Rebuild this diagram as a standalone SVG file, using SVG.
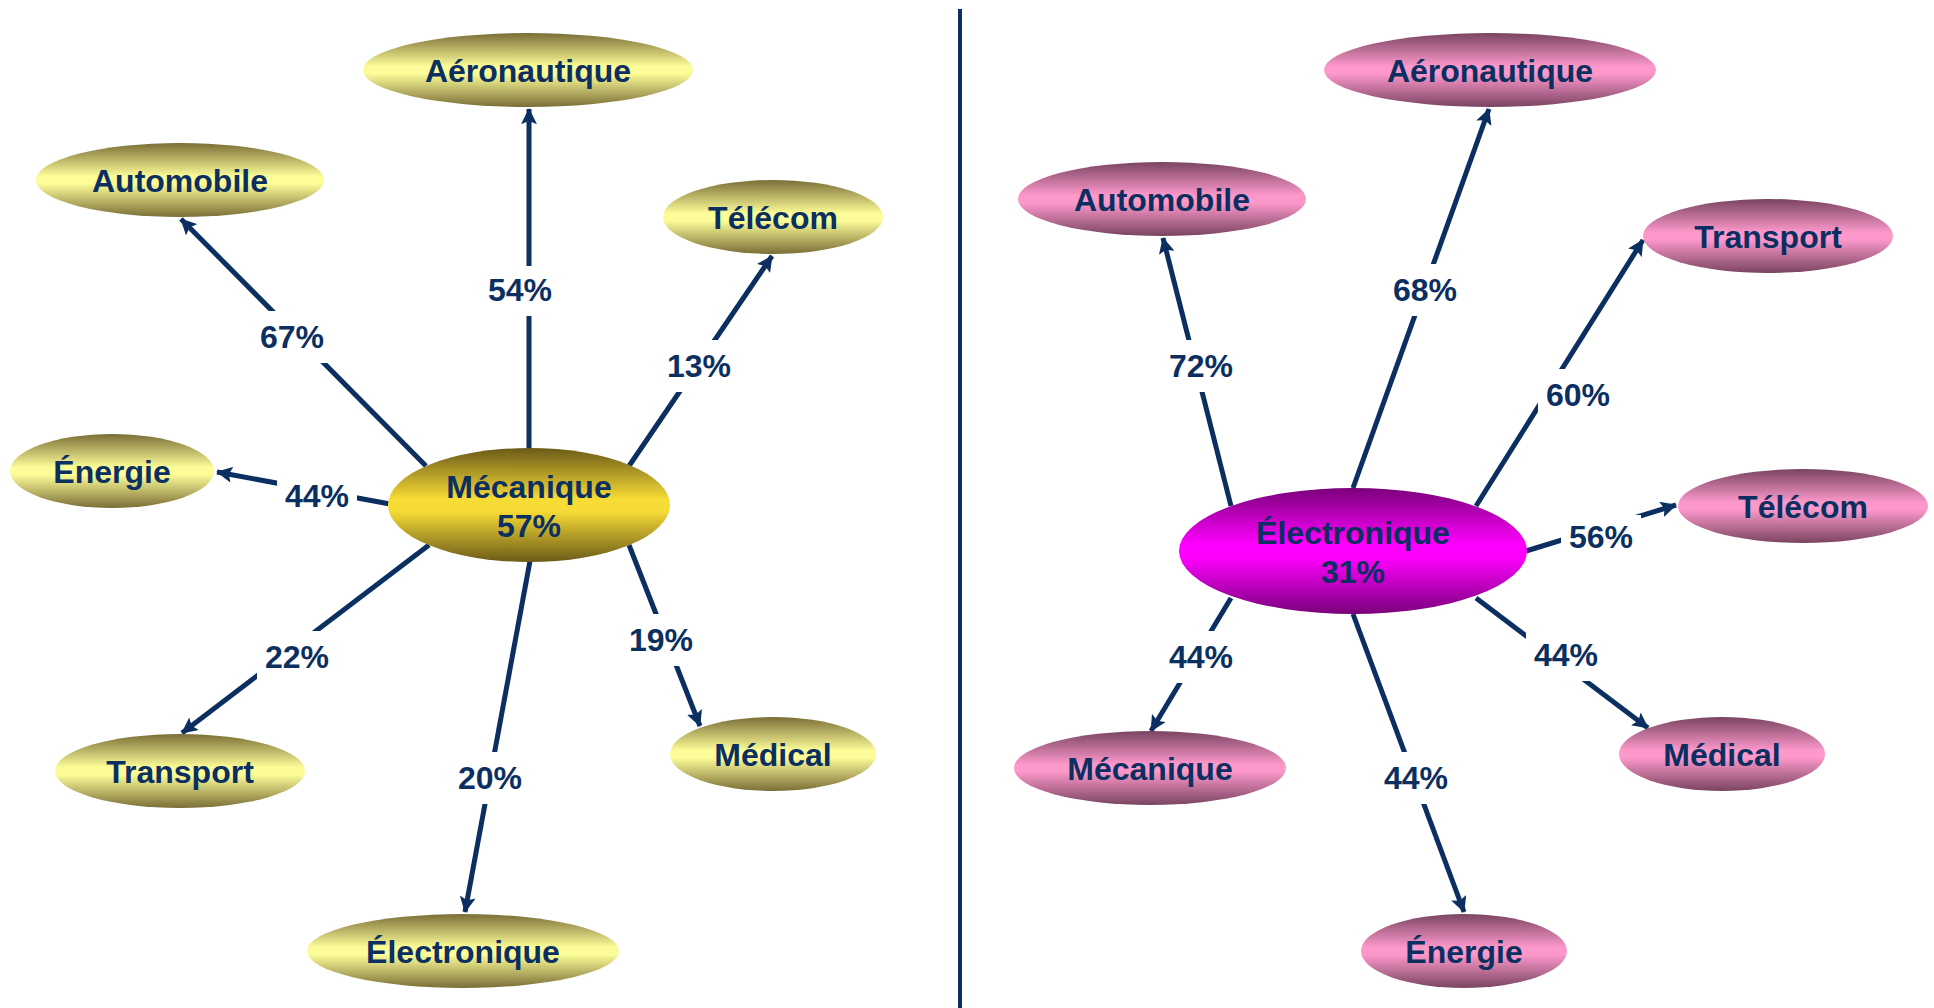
<svg xmlns="http://www.w3.org/2000/svg" width="1934" height="1008" viewBox="0 0 1934 1008">
<style>
text{font-family:"Liberation Sans",Arial,sans-serif;font-weight:bold;font-size:32px;fill:#0b2f60;text-anchor:middle}
.c{stroke:#0b2f60;stroke-width:5;fill:none;marker-end:url(#ah)}
.bg{fill:#ffffff}
.y{fill:url(#gy)}
.ym{fill:url(#gym)}
.p{fill:url(#gp)}
.pm{fill:url(#gpm)}
</style>
<defs>
<linearGradient id="gy" x1="0" y1="0" x2="0" y2="1">
<stop offset="0" stop-color="#7a6e36"/><stop offset="0.45" stop-color="#fcfc98"/><stop offset="0.55" stop-color="#fcfc98"/><stop offset="1" stop-color="#7a6e36"/>
</linearGradient>
<linearGradient id="gym" x1="0" y1="0" x2="0" y2="1">
<stop offset="0" stop-color="#6b5a18"/><stop offset="0.45" stop-color="#f8dc36"/><stop offset="0.55" stop-color="#f8dc36"/><stop offset="1" stop-color="#6b5a18"/>
</linearGradient>
<linearGradient id="gp" x1="0" y1="0" x2="0" y2="1">
<stop offset="0" stop-color="#7a4462"/><stop offset="0.45" stop-color="#fc98ca"/><stop offset="0.55" stop-color="#fc98ca"/><stop offset="1" stop-color="#7a4462"/>
</linearGradient>
<linearGradient id="gpm" x1="0" y1="0" x2="0" y2="1">
<stop offset="0" stop-color="#7a007a"/><stop offset="0.45" stop-color="#ff00ff"/><stop offset="0.55" stop-color="#ff00ff"/><stop offset="1" stop-color="#7a007a"/>
</linearGradient>
<marker id="ah" viewBox="0 0 10 10" markerWidth="3.2" markerHeight="3.2" refX="9.5" refY="5" orient="auto" markerUnits="strokeWidth">
<path d="M0,0 L10,5 L0,10 L2,5 z" fill="#0b2f60"/>
</marker>
</defs>
<rect width="1934" height="1008" fill="#ffffff"/>
<line x1="960" y1="9" x2="960" y2="1008" stroke="#0b2f60" stroke-width="4"/>
<g id="connectors">
<line class="c" x1="529" y1="450" x2="529" y2="109"/>
<line class="c" x1="426" y1="466" x2="181" y2="219"/>
<line class="c" x1="629" y1="466" x2="772" y2="256"/>
<line class="c" x1="390" y1="504" x2="217" y2="472"/>
<line class="c" x1="429" y1="545" x2="182" y2="733"/>
<line class="c" x1="530" y1="561" x2="465" y2="912"/>
<line class="c" x1="629" y1="545" x2="700" y2="726"/>
<line class="c" x1="1231" y1="506" x2="1163" y2="238"/>
<line class="c" x1="1353" y1="488" x2="1489" y2="109"/>
<line class="c" x1="1476" y1="506" x2="1643" y2="240"/>
<line class="c" x1="1526" y1="551" x2="1676" y2="505"/>
<line class="c" x1="1231" y1="598" x2="1151" y2="731"/>
<line class="c" x1="1353" y1="614" x2="1464" y2="912"/>
<line class="c" x1="1476" y1="598" x2="1648" y2="728"/>
</g>
<g id="labels">
<rect class="bg" x="480" y="266" width="80" height="50"/><text x="520" y="301">54%</text>
<rect class="bg" x="252" y="311" width="80" height="52"/><text x="292" y="348">67%</text>
<rect class="bg" x="659" y="340" width="80" height="52"/><text x="699" y="377">13%</text>
<rect class="bg" x="277" y="474" width="80" height="44"/><text x="317" y="507">44%</text>
<rect class="bg" x="257" y="631" width="80" height="52"/><text x="297" y="668">22%</text>
<rect class="bg" x="450" y="752" width="80" height="52"/><text x="490" y="789">20%</text>
<rect class="bg" x="621" y="614" width="80" height="52"/><text x="661" y="651">19%</text>
<rect class="bg" x="1161" y="340" width="80" height="52"/><text x="1201" y="377">72%</text>
<rect class="bg" x="1385" y="264" width="80" height="52"/><text x="1425" y="301">68%</text>
<rect class="bg" x="1538" y="369" width="80" height="52"/><text x="1578" y="406">60%</text>
<rect class="bg" x="1561" y="515" width="80" height="44"/><text x="1601" y="548">56%</text>
<rect class="bg" x="1161" y="631" width="80" height="52"/><text x="1201" y="668">44%</text>
<rect class="bg" x="1376" y="752" width="80" height="52"/><text x="1416" y="789">44%</text>
<rect class="bg" x="1526" y="629" width="80" height="52"/><text x="1566" y="666">44%</text>
</g>
<g id="n-meca-center"><ellipse class="ym" cx="529" cy="505" rx="141" ry="57"/><text x="529" y="498">Mécanique</text><text x="529" y="537">57%</text></g>
<g id="n-l-aero"><ellipse class="y" cx="528" cy="70" rx="165" ry="37"/><text x="528" y="82">Aéronautique</text></g>
<g id="n-l-auto"><ellipse class="y" cx="180" cy="180" rx="144" ry="37"/><text x="180" y="192">Automobile</text></g>
<g id="n-l-tele"><ellipse class="y" cx="773" cy="217" rx="110" ry="37"/><text x="773" y="229">Télécom</text></g>
<g id="n-l-ener"><ellipse class="y" cx="112" cy="471" rx="102" ry="37"/><text x="112" y="483">Énergie</text></g>
<g id="n-l-trans"><ellipse class="y" cx="180" cy="771" rx="125" ry="37"/><text x="180" y="783">Transport</text></g>
<g id="n-l-elec"><ellipse class="y" cx="463" cy="951" rx="156" ry="37"/><text x="463" y="963">Électronique</text></g>
<g id="n-l-med"><ellipse class="y" cx="773" cy="754" rx="103" ry="37"/><text x="773" y="766">Médical</text></g>
<g id="n-elec-center"><ellipse class="pm" cx="1353" cy="551" rx="174" ry="63"/><text x="1353" y="544">Électronique</text><text x="1353" y="583">31%</text></g>
<g id="n-r-aero"><ellipse class="p" cx="1490" cy="70" rx="166" ry="37"/><text x="1490" y="82">Aéronautique</text></g>
<g id="n-r-auto"><ellipse class="p" cx="1162" cy="199" rx="144" ry="37"/><text x="1162" y="211">Automobile</text></g>
<g id="n-r-trans"><ellipse class="p" cx="1768" cy="236" rx="125" ry="37"/><text x="1768" y="248">Transport</text></g>
<g id="n-r-tele"><ellipse class="p" cx="1803" cy="506" rx="125" ry="37"/><text x="1803" y="518">Télécom</text></g>
<g id="n-r-meca"><ellipse class="p" cx="1150" cy="768" rx="136" ry="37"/><text x="1150" y="780">Mécanique</text></g>
<g id="n-r-ener"><ellipse class="p" cx="1464" cy="951" rx="103" ry="37"/><text x="1464" y="963">Énergie</text></g>
<g id="n-r-med"><ellipse class="p" cx="1722" cy="754" rx="103" ry="37"/><text x="1722" y="766">Médical</text></g>
</svg>
